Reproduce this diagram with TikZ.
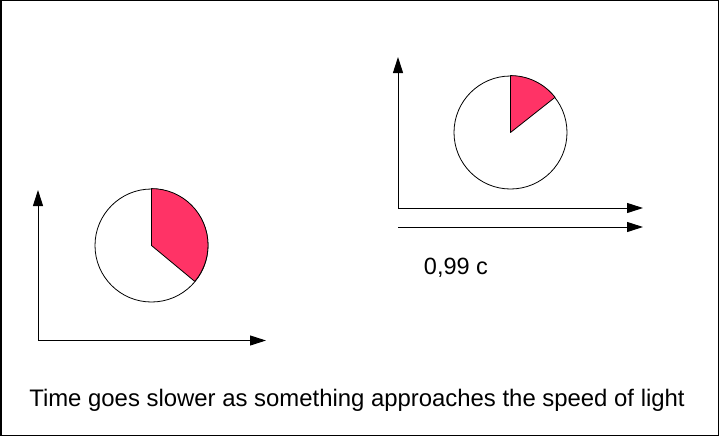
\documentclass[tikz,border=0pt]{standalone}
\usepackage{fontspec}
\setmainfont{Liberation Sans}
\usepackage{tikz}
\newcommand{\clockradius}{56.5pt}
\usetikzlibrary{arrows.meta,positioning}
\definecolor{hand}{RGB}{255,51,102}
\tikzset{
  x=1pt,y=-1pt,
  >={Triangle[length=16pt,width=10pt]},
  axis/.style={draw,->,line width=1pt},
  clock/.style={draw,fill=white,shape=circle,line width=0.8pt,minimum size=2*\clockradius,inner sep=0},
  sector/.style={draw,fill=hand,line width=0.8pt,line join=round},
  label/.style={inner sep=0,anchor=base,font=\fontsize{23.5}{28}\selectfont},
  caption/.style={label,font=\fontsize{23.9}{28}\selectfont}
}
\begin{document}
\begin{tikzpicture}
    \useasboundingbox (0,0) rectangle (719,436);
    \draw [line width=1.5pt] (0.75,0.75) rectangle (718.25,435.25);

    % frame at rest
    \coordinate (restorig) at (38,340.5);
    \coordinate (resty) at (38,190);
    \coordinate (restx) at (266,340.5);
    \path [axis] (restorig) -- (resty);
    \path [axis] (restorig) -- (restx);
    \node (restclock) [clock] at (151.5,245.5) {};
    \path [sector] (restclock.center) -- (restclock.north) arc[start angle=90,end angle=-40,radius=\clockradius] -- cycle;

    % moving frame
    \coordinate (movorig) at (398,208);
    \coordinate (movy) at (398,57);
    \coordinate (movx) at (643,208);
    \coordinate (velstart) at (398,227);
    \coordinate (velend) at (643,227);
    \path [axis] (movorig) -- (movy);
    \path [axis] (movorig) -- (movx);
    \path [axis] (velstart) -- (velend);
    \node (movclock) [clock] at (510.5,132.5) {};
    \path [sector] (movclock.center) -- (movclock.north) arc[start angle=90,end angle=38,radius=\clockradius] -- cycle;
    \node (speed) [label] at (456,274) {0,99 c};

    \node (text) [caption] at (357,406) {Time goes slower as something approaches the speed of light};
\end{tikzpicture}
\end{document}
